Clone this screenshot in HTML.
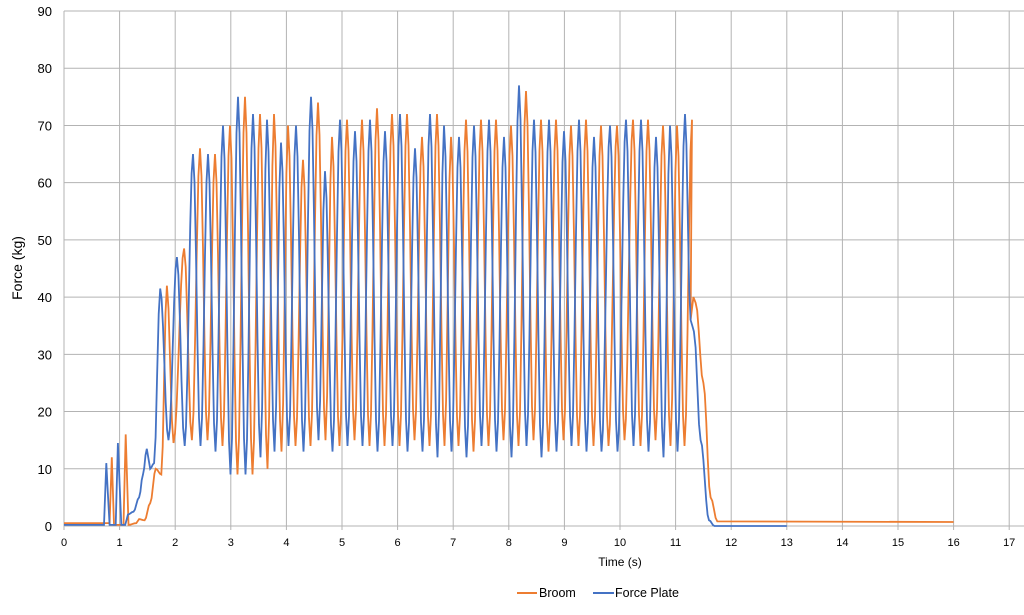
<!DOCTYPE html>
<html><head><meta charset="utf-8"><style>
body{margin:0;background:#fff;}
svg text{font-family:"Liberation Sans",sans-serif;}
</style></head><body>
<svg id="s" width="1024" height="610" xmlns="http://www.w3.org/2000/svg">
<g id="grid" stroke="#b3b3b3" stroke-width="1"></g>
<g id="lab" font-size="12" fill="#000"></g>
<text x="22" y="268" font-size="14" transform="rotate(-90 22 268)" text-anchor="middle">Force (kg)</text>
<text x="620" y="566" font-size="12" text-anchor="middle">Time (s)</text>
<path id="o" fill="none" stroke="#ed7d31" stroke-width="1.8"/>
<path id="b" fill="none" stroke="#4472c4" stroke-width="1.8"/>
<line x1="517" y1="593" x2="537" y2="593" stroke="#ed7d31" stroke-width="2"/>
<text x="539" y="597" font-size="12.5">Broom</text>
<line x1="593" y1="593" x2="614" y2="593" stroke="#4472c4" stroke-width="2"/>
<text x="615" y="597" font-size="12.5">Force Plate</text>
</svg>
<script>
var X=function(t){return 64+55.6*t},Y=function(v){return 526-5.722*v};
var g=document.getElementById('grid'),l=document.getElementById('lab'),h='',k='';
for(var i=0;i<=9;i++){h+='<line x1="64" x2="1024" y1="'+Y(i*10)+'" y2="'+Y(i*10)+'"/>';k+='<text x="52" y="'+(Y(i*10)+5)+'" text-anchor="end" font-size="13">'+i*10+'</text>';}
for(var i=0;i<=17;i++){h+='<line y1="11" y2="530" x1="'+X(i)+'" x2="'+X(i)+'"/>';k+='<text x="'+X(i)+'" y="546" text-anchor="middle" font-size="11">'+i+'</text>';}
g.innerHTML=h;l.innerHTML=k;
function tp(px){return (px-64)/55.6;}
var bp=[193,208,223,238,253,267,281,296,311,325,340,355,370,385,400,415,430,444,459,474,489,504,519,534,549,564,579,594,610,626,641,656,670,685];
var bv=[65,65,70,75,72,71,67,70,75,62,71,69,71,69,72,66,72,70,68,70,71,68,77,71,71,69,71,68,70,71,71,68,70,72];
var ov=[66,65,70,75,72,72,70,64,74,68,71,71,73,72,72,68,72,68,71,71,71,70,76,71,71,70,71,70,70,71,71,70,70,71];
var bm=[14,13,9,9,12,13,14,13,15,13,14,14,13,14,13,13,12,13,12,14,13,12,14,12,13,14,13,13,13,14,13,12,13];
var om=[15,14,9,9,10,13,14,14,15,14,15,14,14,14,15,14,14,14,13,14,15,14,15,13,15,14,14,14,15,14,15,14,14];
function build(pre,peaks,pv,mins,post,shift){
 var e=pre.slice();
 for(var i=0;i<peaks.length;i++){e.push([tp(peaks[i]+shift),pv[i]]);if(i<mins.length)e.push([tp(peaks[i]+shift+7.5),mins[i]]);}
 e=e.concat(post);
 var d='M'+X(e[0][0]).toFixed(1)+' '+Y(e[0][1]).toFixed(1);
 for(var i=1;i<e.length;i++){var a=e[i-1],b=e[i];
  var n=Math.max(1,Math.round((X(b[0])-X(a[0]))/1.5));
  if(b[2]||n>30)n=1;
  for(var j=1;j<=n;j++){var f=j/n,c=(1-Math.cos(Math.PI*f))/2;
   d+='L'+X(a[0]+(b[0]-a[0])*f).toFixed(1)+' '+Y(a[1]+(b[1]-a[1])*c).toFixed(1);}}
 return d;}
var bpre=[[0,0.2],[0.72,0.2,1],[0.76,11],[0.82,0.2],[0.93,0.2,1],[0.97,14.5],[1.03,0.2],[1.1,0.2,1],[1.15,2],[1.25,2.5],[1.35,5],[1.42,9],[1.49,13.5],[1.55,10],[1.62,11],[1.73,41.5],[1.88,15],[2.03,47],[2.17,14]];
var bpost=[[11.27,36],[11.33,34],[11.45,15],[11.6,1],[11.7,0],[13,0,1]];
var opre=[[0,0.5],[0.82,0.5,1],[0.86,12],[0.9,0.2],[1.07,0.2,1],[1.11,16],[1.16,0.2],[1.3,0.5],[1.35,1.2],[1.45,1],[1.55,4],[1.65,10],[1.75,9],[1.85,42],[1.97,14.5],[2.16,48.5],[2.3,15]];
var opost=[[11.27,36],[11.32,40],[11.36,39],[11.5,25],[11.63,5],[11.75,0.8],[16,0.7,1]];
document.getElementById('b').setAttribute('d',build(bpre,bp,bv,bm,bpost,0));
document.getElementById('o').setAttribute('d',build(opre,bp,ov,om,opost,7));
</script>
</body></html>
